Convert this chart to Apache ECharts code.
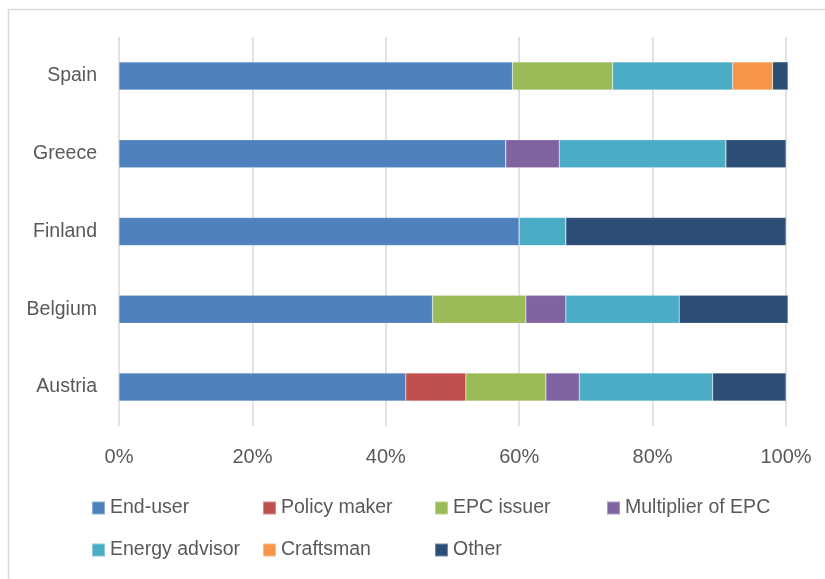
<!DOCTYPE html>
<html><head><meta charset="utf-8">
<script src="https://cdn.jsdelivr.net/npm/echarts@6/dist/echarts.min.js"></script>
<style>html,body{margin:0;padding:0;background:#fff}#c{width:825px;height:579px}</style>
</head><body><div id="c"></div>
<script>
const countries = ['Austria', 'Belgium', 'Finland', 'Greece', 'Spain'];
const seriesNames = ['End-user', 'Policy maker', 'EPC issuer', 'Multiplier of EPC', 'Energy advisor', 'Craftsman', 'Other'];
const endUser      = [43, 47, 60, 58, 59];
const policyMaker  = [9, 0, 0, 0, 0];
const epcIssuer    = [12, 14, 0, 0, 15];
const multiplier   = [5, 6, 0, 8, 0];
const energyAdv    = [20, 17, 7, 25, 18];
const craftsman    = [0, 0, 0, 0, 6];
const other        = [11, 16.3, 33, 9, 2.3];
const tickLabels = ['0%', '20%', '40%', '60%', '80%', '100%'];
const colors = ['#4F81BD', '#C0504D', '#9BBB59', '#8064A2', '#4BACC6', '#F79646', '#2C4D75'];

const values = [endUser, policyMaker, epcIssuer, multiplier, energyAdv, craftsman, other];
const font = "'Liberation Sans', Arial, sans-serif";

const legendPos = [
  [91, 498], [262, 498], [434, 498], [606, 498],
  [91, 540], [262, 540], [434, 540]
];

const chart = echarts.init(document.getElementById('c'), null, {renderer: 'canvas'});
chart.setOption({
  animation: false,
  color: colors,
  graphic: [{
    type: 'rect', left: 6, top: 7,
    shape: {width: 830, height: 590},
    style: {fill: 'none', stroke: '#d9d9d9', lineWidth: 1.5}
  }],
  grid: {left: 119, right: 39, top: 37, bottom: 153, containLabel: false},
  xAxis: {
    type: 'value', min: 0, max: 100, interval: 20,
    axisLine: {show: false}, axisTick: {show: false},
    splitLine: {lineStyle: {color: '#d9d9d9', width: 1.5}},
    axisLabel: {
      margin: 21, color: '#595959', fontSize: 20, fontFamily: font,
      formatter: v => tickLabels[Math.round(v / 20)]
    }
  },
  yAxis: {
    type: 'category', data: countries,
    axisLine: {show: false}, axisTick: {show: false},
    axisLabel: {margin: 22, color: '#595959', fontSize: 19.5, fontFamily: font}
  },
  legend: seriesNames.map((n, i) => ({
    data: [n], left: legendPos[i][0], top: legendPos[i][1],
    padding: 0, itemWidth: 13, itemHeight: 13, itemGap: 0,
    icon: 'rect',
    textStyle: {color: '#595959', fontSize: 19.5, lineHeight: 20, fontFamily: font}
  })),
  series: seriesNames.map((n, i) => ({
    name: n, type: 'bar', stack: 'total', barWidth: 28, clip: false,
    data: values[i],
    itemStyle: {color: colors[i], borderColor: 'rgba(255,255,255,0.35)', borderWidth: 0.5}
  }))
});
</script></body></html>
